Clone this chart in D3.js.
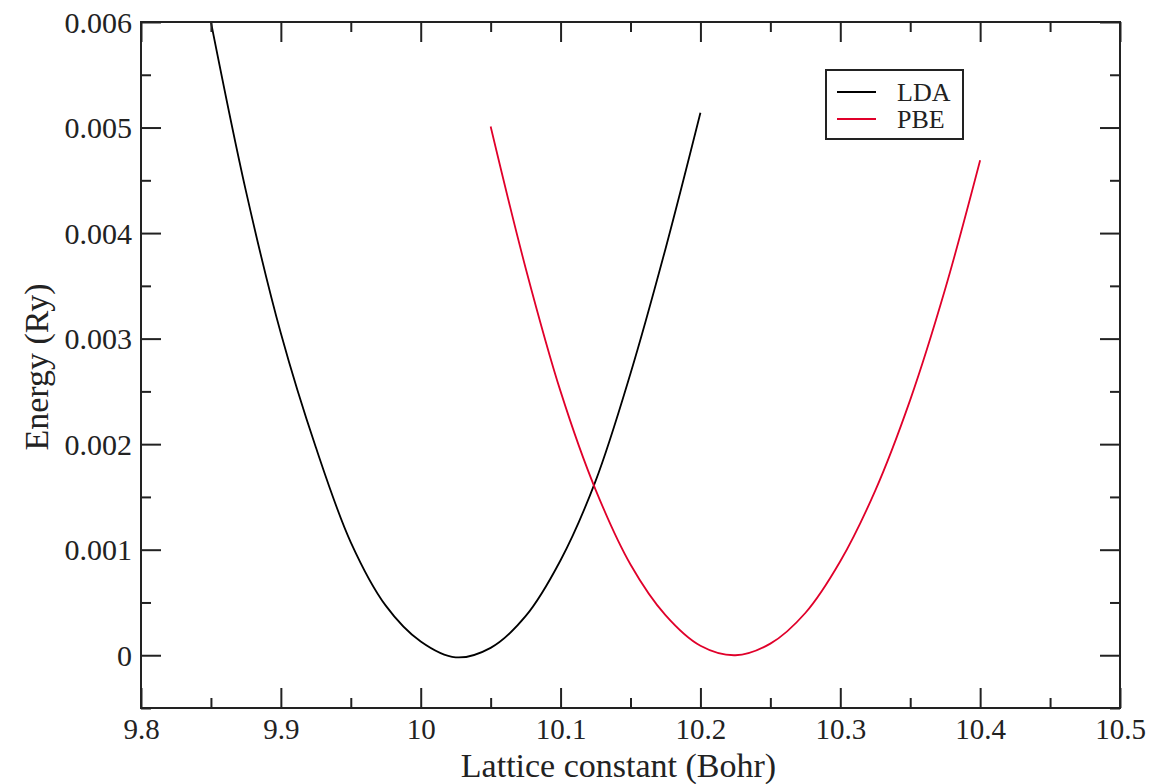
<!DOCTYPE html>
<html><head><meta charset="utf-8">
<script src="https://cdn.jsdelivr.net/npm/d3@7"></script>
<style>html,body{margin:0;padding:0;background:#fff;}</style>
</head><body>
<svg id="chart" width="1154" height="784"></svg>
<script>
const ldaX = [9.85, 9.875, 9.9, 9.925, 9.95, 9.975, 10.0, 10.025, 10.05, 10.075, 10.1, 10.125, 10.15, 10.175, 10.2];
const ldaE = [0.00600, 0.00440, 0.00305, 0.00197, 0.00107, 0.00047, 0.00013, -0.00002, 0.00007, 0.00037, 0.00090, 0.00165, 0.00267, 0.00385, 0.00514];
const pbeX = [10.05, 10.075, 10.1, 10.125, 10.15, 10.175, 10.2, 10.225, 10.25, 10.275, 10.3, 10.325, 10.35, 10.375, 10.4];
const pbeE = [0.00501, 0.00367, 0.00250, 0.00157, 0.00086, 0.00038, 0.00009, 0.00000, 0.00011, 0.00040, 0.00089, 0.00156, 0.00242, 0.00347, 0.00469];
const xTicks = [9.8, 9.9, 10.0, 10.1, 10.2, 10.3, 10.4, 10.5];
const xTickLabels = ["9.8", "9.9", "10", "10.1", "10.2", "10.3", "10.4", "10.5"];
const yTicks = [0, 0.001, 0.002, 0.003, 0.004, 0.005, 0.006];
const yTickLabels = ["0", "0.001", "0.002", "0.003", "0.004", "0.005", "0.006"];
const xMinor = [9.85, 9.95, 10.05, 10.15, 10.25, 10.35, 10.45];
const yMinor = [-0.0005, 0.0005, 0.0015, 0.0025, 0.0035, 0.0045, 0.0055];
const seriesNames = ["LDA", "PBE"];
const seriesColors = ["#000000", "#e0002a"];

const L = 141, R = 1120, T = 22, B = 708;
const svg = d3.select("#chart");
const x = d3.scaleLinear().domain([9.8, 10.5]).range([L, R]);
const y = d3.scaleLinear().domain([-0.0005, 0.006]).range([B, T]);
const font = "'Liberation Serif','Times New Roman',serif";

svg.append("defs").append("clipPath").attr("id","clip")
  .append("rect").attr("x",L).attr("y",T).attr("width",R-L).attr("height",B-T);

const line = d3.line().x(d=>x(d[0])).y(d=>y(d[1])).curve(d3.curveCatmullRom);
const series = [d3.zip(ldaX, ldaE), d3.zip(pbeX, pbeE)];
const g = svg.append("g").attr("clip-path","url(#clip)");
series.forEach((s,i)=>{
  g.append("path").attr("d", line(s)).attr("fill","none")
   .attr("stroke", seriesColors[i]).attr("stroke-width",1.8);
});

const tickColor = "#222";
function ax(gen, tr){
  return svg.append("g").attr("transform", tr).call(gen)
    .call(s=>s.select(".domain").remove())
    .call(s=>s.selectAll("line").attr("stroke",tickColor).attr("stroke-width",2));
}
ax(d3.axisBottom(x).tickValues(xTicks).tickSize(-20).tickFormat((d,i)=>xTickLabels[i]), `translate(0,${B})`)
  .selectAll("text").attr("font-family",font).attr("font-size",29).attr("fill","#222").attr("y",3).attr("dy","0.95em");
ax(d3.axisBottom(x).tickValues(xMinor).tickSize(-10).tickFormat(""), `translate(0,${B})`);
ax(d3.axisTop(x).tickValues(xTicks).tickSize(-20).tickFormat(""), `translate(0,${T})`);
ax(d3.axisTop(x).tickValues(xMinor).tickSize(-10).tickFormat(""), `translate(0,${T})`);
ax(d3.axisLeft(y).tickValues(yTicks).tickSize(-20).tickFormat((d,i)=>yTickLabels[i]), `translate(${L},0)`)
  .selectAll("text").attr("font-family",font).attr("font-size",30).attr("fill","#222").attr("x",-9).attr("dy","0.34em");
ax(d3.axisLeft(y).tickValues(yMinor).tickSize(-10).tickFormat(""), `translate(${L},0)`);
ax(d3.axisRight(y).tickValues(yTicks).tickSize(-20).tickFormat(""), `translate(${R},0)`);
ax(d3.axisRight(y).tickValues(yMinor).tickSize(-10).tickFormat(""), `translate(${R},0)`);

svg.append("rect").attr("x",L).attr("y",T).attr("width",R-L).attr("height",B-T)
  .attr("fill","none").attr("stroke",tickColor).attr("stroke-width",2);

svg.append("text").attr("x",(L+R)/2 - 12).attr("y",777).attr("text-anchor","middle")
  .attr("font-family",font).attr("font-size",34).attr("fill","#222").text("Lattice constant (Bohr)");
svg.append("text").attr("transform",`translate(48,${(T+B)/2 + 2}) rotate(-90)`).attr("text-anchor","middle")
  .attr("font-family",font).attr("font-size",34).attr("fill","#222").text("Energy (Ry)");

const lg = svg.append("g");
lg.append("rect").attr("x",826).attr("y",70).attr("width",137).attr("height",69)
  .attr("fill","#fff").attr("stroke",tickColor).attr("stroke-width",2);
seriesNames.forEach((n,i)=>{
  const yy = 92 + i*27;
  lg.append("line").attr("x1",837).attr("x2",876).attr("y1",yy).attr("y2",yy)
    .attr("stroke",seriesColors[i]).attr("stroke-width",1.8);
  lg.append("text").attr("x",897).attr("y",yy).attr("dy","0.35em")
    .attr("font-family",font).attr("font-size",26).attr("fill","#222").text(n);
});
</script>
</body></html>
